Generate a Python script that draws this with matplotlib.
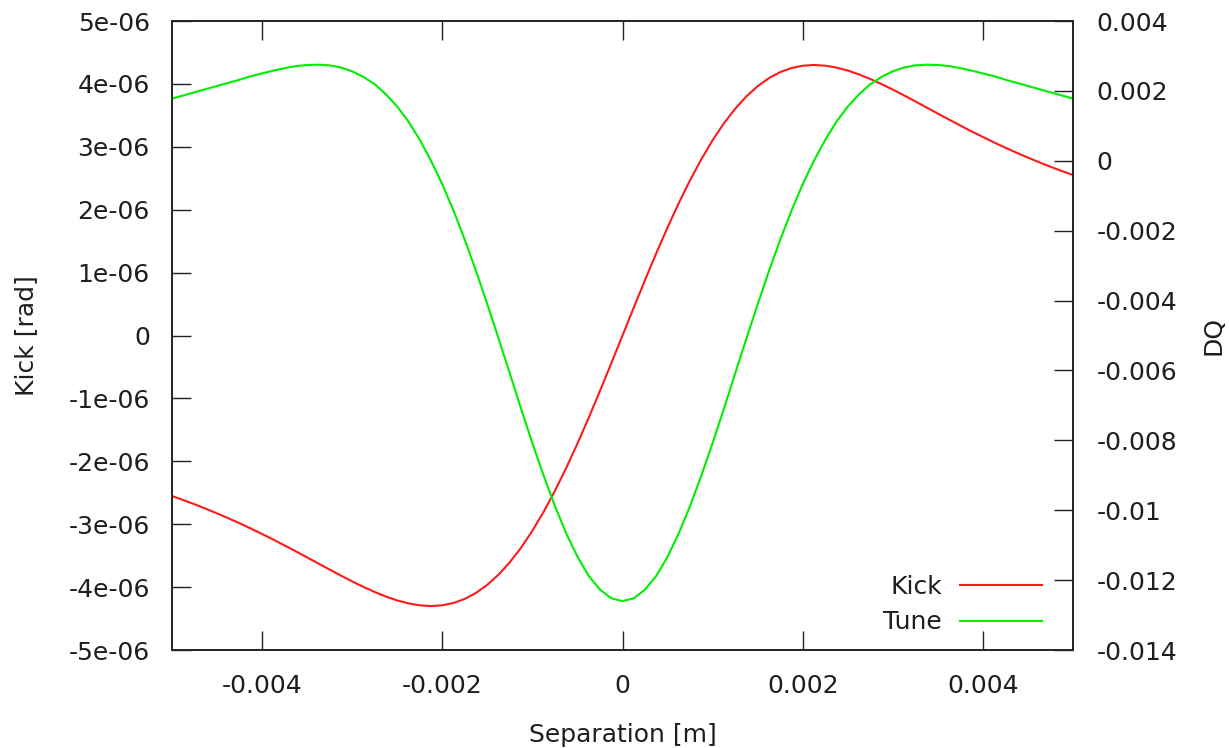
import matplotlib
matplotlib.use("Agg")
import matplotlib.pyplot as plt

# values (one reading every 0.000125 m)
separation = [
    -0.005, -0.004875, -0.00475, -0.004625, -0.0045, -0.004375, -0.00425, -0.004125,
    -0.004, -0.003875, -0.00375, -0.003625, -0.0035, -0.003375, -0.00325, -0.003125,
    -0.003, -0.002875, -0.00275, -0.002625, -0.0025, -0.002375, -0.00225, -0.002125,
    -0.002, -0.001875, -0.00175, -0.001625, -0.0015, -0.001375, -0.00125, -0.001125,
    -0.001, -0.000875, -0.00075, -0.000625, -0.0005, -0.000375, -0.00025, -0.000125,
    0.0,
    0.000125, 0.00025, 0.000375, 0.0005, 0.000625, 0.00075, 0.000875, 0.001,
    0.001125, 0.00125, 0.001375, 0.0015, 0.001625, 0.00175, 0.001875, 0.002,
    0.002125, 0.00225, 0.002375, 0.0025, 0.002625, 0.00275, 0.002875, 0.003,
    0.003125, 0.00325, 0.003375, 0.0035, 0.003625, 0.00375, 0.003875, 0.004,
    0.004125, 0.00425, 0.004375, 0.0045, 0.004625, 0.00475, 0.004875, 0.005]

kick = [
    -2.552e-6, -2.616e-6, -2.683e-6, -2.754e-6, -2.828e-6, -2.905e-6, -2.985e-6, -3.069e-6,
    -3.156e-6, -3.245e-6, -3.338e-6, -3.432e-6, -3.528e-6, -3.625e-6, -3.722e-6, -3.817e-6,
    -3.910e-6, -3.997e-6, -4.078e-6, -4.151e-6, -4.212e-6, -4.259e-6, -4.290e-6, -4.301e-6,
    -4.289e-6, -4.252e-6, -4.187e-6, -4.092e-6, -3.963e-6, -3.801e-6, -3.604e-6, -3.372e-6,
    -3.104e-6, -2.802e-6, -2.469e-6, -2.106e-6, -1.718e-6, -1.308e-6, -8.81e-7, -4.44e-7,
    0.0,
    4.44e-7, 8.81e-7, 1.308e-6, 1.718e-6, 2.106e-6, 2.469e-6, 2.802e-6, 3.104e-6,
    3.372e-6, 3.604e-6, 3.801e-6, 3.963e-6, 4.092e-6, 4.187e-6, 4.252e-6, 4.289e-6,
    4.301e-6, 4.290e-6, 4.259e-6, 4.212e-6, 4.151e-6, 4.078e-6, 3.997e-6, 3.910e-6,
    3.817e-6, 3.722e-6, 3.625e-6, 3.528e-6, 3.432e-6, 3.338e-6, 3.245e-6, 3.156e-6,
    3.069e-6, 2.985e-6, 2.905e-6, 2.828e-6, 2.754e-6, 2.683e-6, 2.616e-6, 2.552e-6]

tune = [
    0.00178, 0.00187, 0.00196, 0.00205, 0.00214, 0.00223, 0.00232, 0.00242,
    0.00250, 0.00258, 0.00265, 0.00271, 0.00274, 0.00275, 0.00273, 0.00267,
    0.00256, 0.00240, 0.00219, 0.00190, 0.00155, 0.00112, 0.00060, 0.00000,
    -0.00067, -0.00143, -0.00226, -0.00316, -0.00411, -0.00509, -0.00609, -0.00710,
    -0.00808, -0.00901, -0.00988, -0.01066, -0.01133, -0.01188, -0.01227, -0.01252,
    -0.01260,
    -0.01252, -0.01227, -0.01188, -0.01133, -0.01066, -0.00988, -0.00901, -0.00808,
    -0.00710, -0.00609, -0.00509, -0.00411, -0.00316, -0.00226, -0.00143, -0.00067,
    0.00000, 0.00060, 0.00112, 0.00155, 0.00190, 0.00219, 0.00240, 0.00256,
    0.00267, 0.00273, 0.00275, 0.00274, 0.00271, 0.00265, 0.00258, 0.00250,
    0.00242, 0.00232, 0.00223, 0.00214, 0.00205, 0.00196, 0.00187, 0.00178]

x_ticks = [-0.004, -0.002, 0, 0.002, 0.004]
x_labels = ["-0.004", "-0.002", "0", "0.002", "0.004"]
kick_ticks = [5e-6, 4e-6, 3e-6, 2e-6, 1e-6, 0, -1e-6, -2e-6, -3e-6, -4e-6, -5e-6]
kick_labels = ["5e-06", "4e-06", "3e-06", "2e-06", "1e-06", "0", "-1e-06",
               "-2e-06", "-3e-06", "-4e-06", "-5e-06"]
tune_ticks = [0.004, 0.002, 0, -0.002, -0.004, -0.006, -0.008, -0.01, -0.012, -0.014]
tune_labels = ["0.004", "0.002", "0", "-0.002", "-0.004", "-0.006", "-0.008",
               "-0.01", "-0.012", "-0.014"]

plt.rcParams['font.family'] = ['DejaVu Sans']
fs = 18
frame = '#222222'
txt = '#1e1e1e'

fig = plt.figure(figsize=(12.29, 7.48), dpi=100)
ax = fig.add_axes([172/1229, 1 - 650/748, (1073-172)/1229, (650-21)/748])
ax2 = ax.twinx()

l1, = ax.plot(separation, kick, color='#ff1a1a', lw=1.5, label='Kick')
l2, = ax2.plot(separation, tune, color='#00ee00', lw=1.5, label='Tune')

ax.set_xlim(-0.005, 0.005)
ax.set_ylim(-5e-6, 5e-6)
ax2.set_ylim(-0.014, 0.004)

ax.set_xticks(x_ticks)
ax.set_xticklabels(x_labels)
ax.set_yticks(kick_ticks)
ax.set_yticklabels(kick_labels)
ax2.set_yticks(tune_ticks)
ax2.set_yticklabels(tune_labels)

ax.tick_params(axis='x', direction='in', length=14, width=1, top=True, bottom=True,
               labelsize=fs, pad=17, color=frame, labelcolor=txt)
ax.tick_params(axis='y', direction='in', length=14, width=1, left=True, right=False,
               labelsize=fs, pad=16, color=frame, labelcolor=txt)
ax2.tick_params(axis='y', direction='in', length=14, width=1, right=True,
                labelsize=fs, pad=17, color=frame, labelcolor=txt)
ax.minorticks_off()

for a in (ax, ax2):
    for s in a.spines.values():
        s.set_color(frame)
        s.set_linewidth(1.2)

ax.set_xlabel('Separation [m]', fontsize=fs, labelpad=18, color=txt)
ax.set_ylabel('Kick [rad]', fontsize=fs, labelpad=22, color=txt)
ax2.set_ylabel('DQ', fontsize=fs, color=txt)
ax2.yaxis.set_label_coords((1201 - 172) / 901, 0.5)

leg = ax2.legend(handles=[l1, l2], loc='lower right', frameon=False, fontsize=fs,
                 markerfirst=False, handlelength=3.3, handletextpad=0.7,
                 labelspacing=0.45, borderpad=0.0, borderaxespad=0.0,
                 bbox_to_anchor=(0.9656, 0.025))
for t in leg.get_texts():
    t.set_color(txt)

fig.savefig('out.png', dpi=100)
